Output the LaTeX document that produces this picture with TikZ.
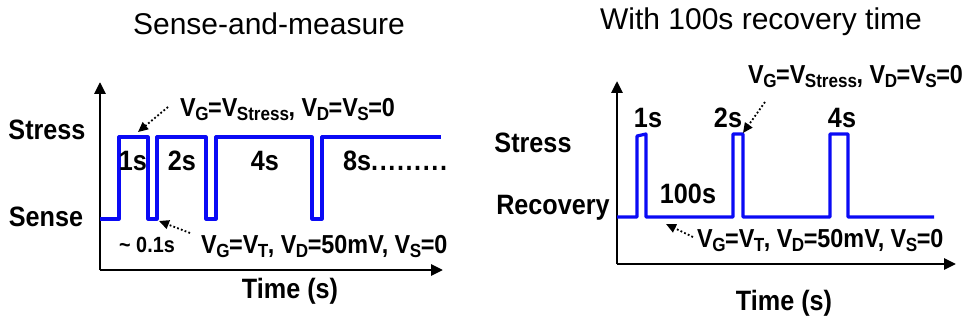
\documentclass[tikz,border=0pt]{standalone}
\usepackage{fontspec}
\setmainfont{Liberation Sans}
\newfontfamily\lblfont[FakeStretch=0.9]{Liberation Sans}
\usepackage{xcolor}
\definecolor{cWave}{HTML}{0A0AF5}
\definecolor{cAxis}{HTML}{000000}
\usetikzlibrary{arrows.meta}
\newcommand\lowsub[1]{\kern-0.5pt\raisebox{-4pt}{\fontsize{19}{19}\selectfont #1}\kern-0.5pt}
\newcommand\dotrun{.\kern1.6pt.\kern1.6pt.\kern1.6pt.\kern1.6pt.\kern1.6pt.\kern1.6pt.\kern1.6pt.\kern1.6pt.}
\tikzset{
  axis-line/.style={draw=cAxis,line width=2.8pt,-{Triangle[length=12pt,width=11pt]}},
  wave-line/.style={draw=cWave,line width=3.2pt,line join=round},
  hint-arrow/.style={draw=cAxis,line width=1.8pt,dash pattern=on 1.8pt off 2.2pt,
    -{Triangle[length=10pt,width=9pt]}},
  lbl-big/.style={font=\lblfont\bfseries\fontsize{28}{31}\selectfont,inner sep=0pt},
  lbl-cond/.style={font=\lblfont\bfseries\fontsize{26}{29}\selectfont,inner sep=0pt},
  lbl-small/.style={font=\lblfont\bfseries\fontsize{22}{25}\selectfont,inner sep=0pt},
  lbl-title/.style={font=\fontsize{30}{33}\selectfont,inner sep=0pt},
}
\begin{document}
\begin{tikzpicture}[x=1pt,y=-1pt]
  \useasboundingbox (0,0) rectangle (962,321);
  % left panel: sense-and-measure
  \node[lbl-title] (titleA) at (269,24) {Sense-and-measure};
  \coordinate (originA) at (100,270);
  \coordinate (ytipA) at (100,82);
  \coordinate (xtipA) at (443,270);
  \draw[axis-line] (originA) -- (ytipA);
  \draw[axis-line] (originA) -- (xtipA);
  \draw[wave-line] (100,219) -- (119,219) -- (119,137) -- (148,137) -- (148,219)
    -- (157,219) -- (157,137) -- (206,137) -- (206,219) -- (216,219) -- (216,137)
    -- (312,137) -- (312,219) -- (322,219) -- (322,137) -- (441,137);
  \node[lbl-big] (stressA) at (47,130) {Stress};
  \node[lbl-big] (senseA) at (46,217) {Sense};
  \node[lbl-big] (oneA) at (133,161) {1s};
  \node[lbl-big] (twoA) at (182,161) {2s};
  \node[lbl-big] (fourA) at (265,161) {4s};
  \node[lbl-big,anchor=west] (eightA) at (343,161) {8s\dotrun};
  \node[lbl-small] (gapA) at (147,245) {\textasciitilde\ 0.1s};
  \node[lbl-cond,anchor=west] (vstressA) at (180,110)
    {V\lowsub{G}=V\lowsub{Stress}, V\lowsub{D}=V\lowsub{S}=0};
  \node[lbl-cond,anchor=west] (vsenseA) at (201,247)
    {V\lowsub{G}=V\lowsub{T}, V\lowsub{D}=50mV, V\lowsub{S}=0};
  \coordinate (hintA1s) at (168,107);
  \coordinate (hintA1e) at (138,132);
  \coordinate (hintA2s) at (190,233);
  \coordinate (hintA2e) at (159,221);
  \draw[hint-arrow] (hintA1s) -- (hintA1e);
  \draw[hint-arrow] (hintA2s) -- (hintA2e);
  \node[lbl-big] (timeA) at (290,291) {Time (s)};
  % right panel: with 100s recovery time
  \node[lbl-title] (titleB) at (761,22) {With 100s recovery time};
  \coordinate (originB) at (617,264);
  \coordinate (ytipB) at (617,81);
  \coordinate (xtipB) at (956,264);
  \draw[axis-line] (originB) -- (ytipB);
  \draw[axis-line] (originB) -- (xtipB);
  \draw[wave-line] (617,217) -- (637,217) -- (637,136) -- (646,134) -- (646,217)
    -- (733,217) -- (733,134) -- (743,134) -- (743,217) -- (830,217) -- (830,134)
    -- (848,134) -- (848,217) -- (934,217);
  \node[lbl-big] (stressB) at (533,143) {Stress};
  \node[lbl-big] (recoveryB) at (553,208) {Recovery};
  \node[lbl-big] (oneB) at (648,118) {1s};
  \node[lbl-big] (twoB) at (728,118) {2s};
  \node[lbl-big] (fourB) at (842,118) {4s};
  \node[lbl-big] (hundredB) at (688,194) {100s};
  \node[lbl-cond,anchor=west] (vstressB) at (748,77)
    {V\lowsub{G}=V\lowsub{Stress}, V\lowsub{D}=V\lowsub{S}=0};
  \node[lbl-cond,anchor=west] (vsenseB) at (697,241)
    {V\lowsub{G}=V\lowsub{T}, V\lowsub{D}=50mV, V\lowsub{S}=0};
  \coordinate (hintB1s) at (765,102);
  \coordinate (hintB1e) at (743,133);
  \coordinate (hintB2s) at (693,237);
  \coordinate (hintB2e) at (666,224);
  \draw[hint-arrow] (hintB1s) -- (hintB1e);
  \draw[hint-arrow] (hintB2s) -- (hintB2e);
  \node[lbl-big] (timeB) at (784,303) {Time (s)};
\end{tikzpicture}
\end{document}
